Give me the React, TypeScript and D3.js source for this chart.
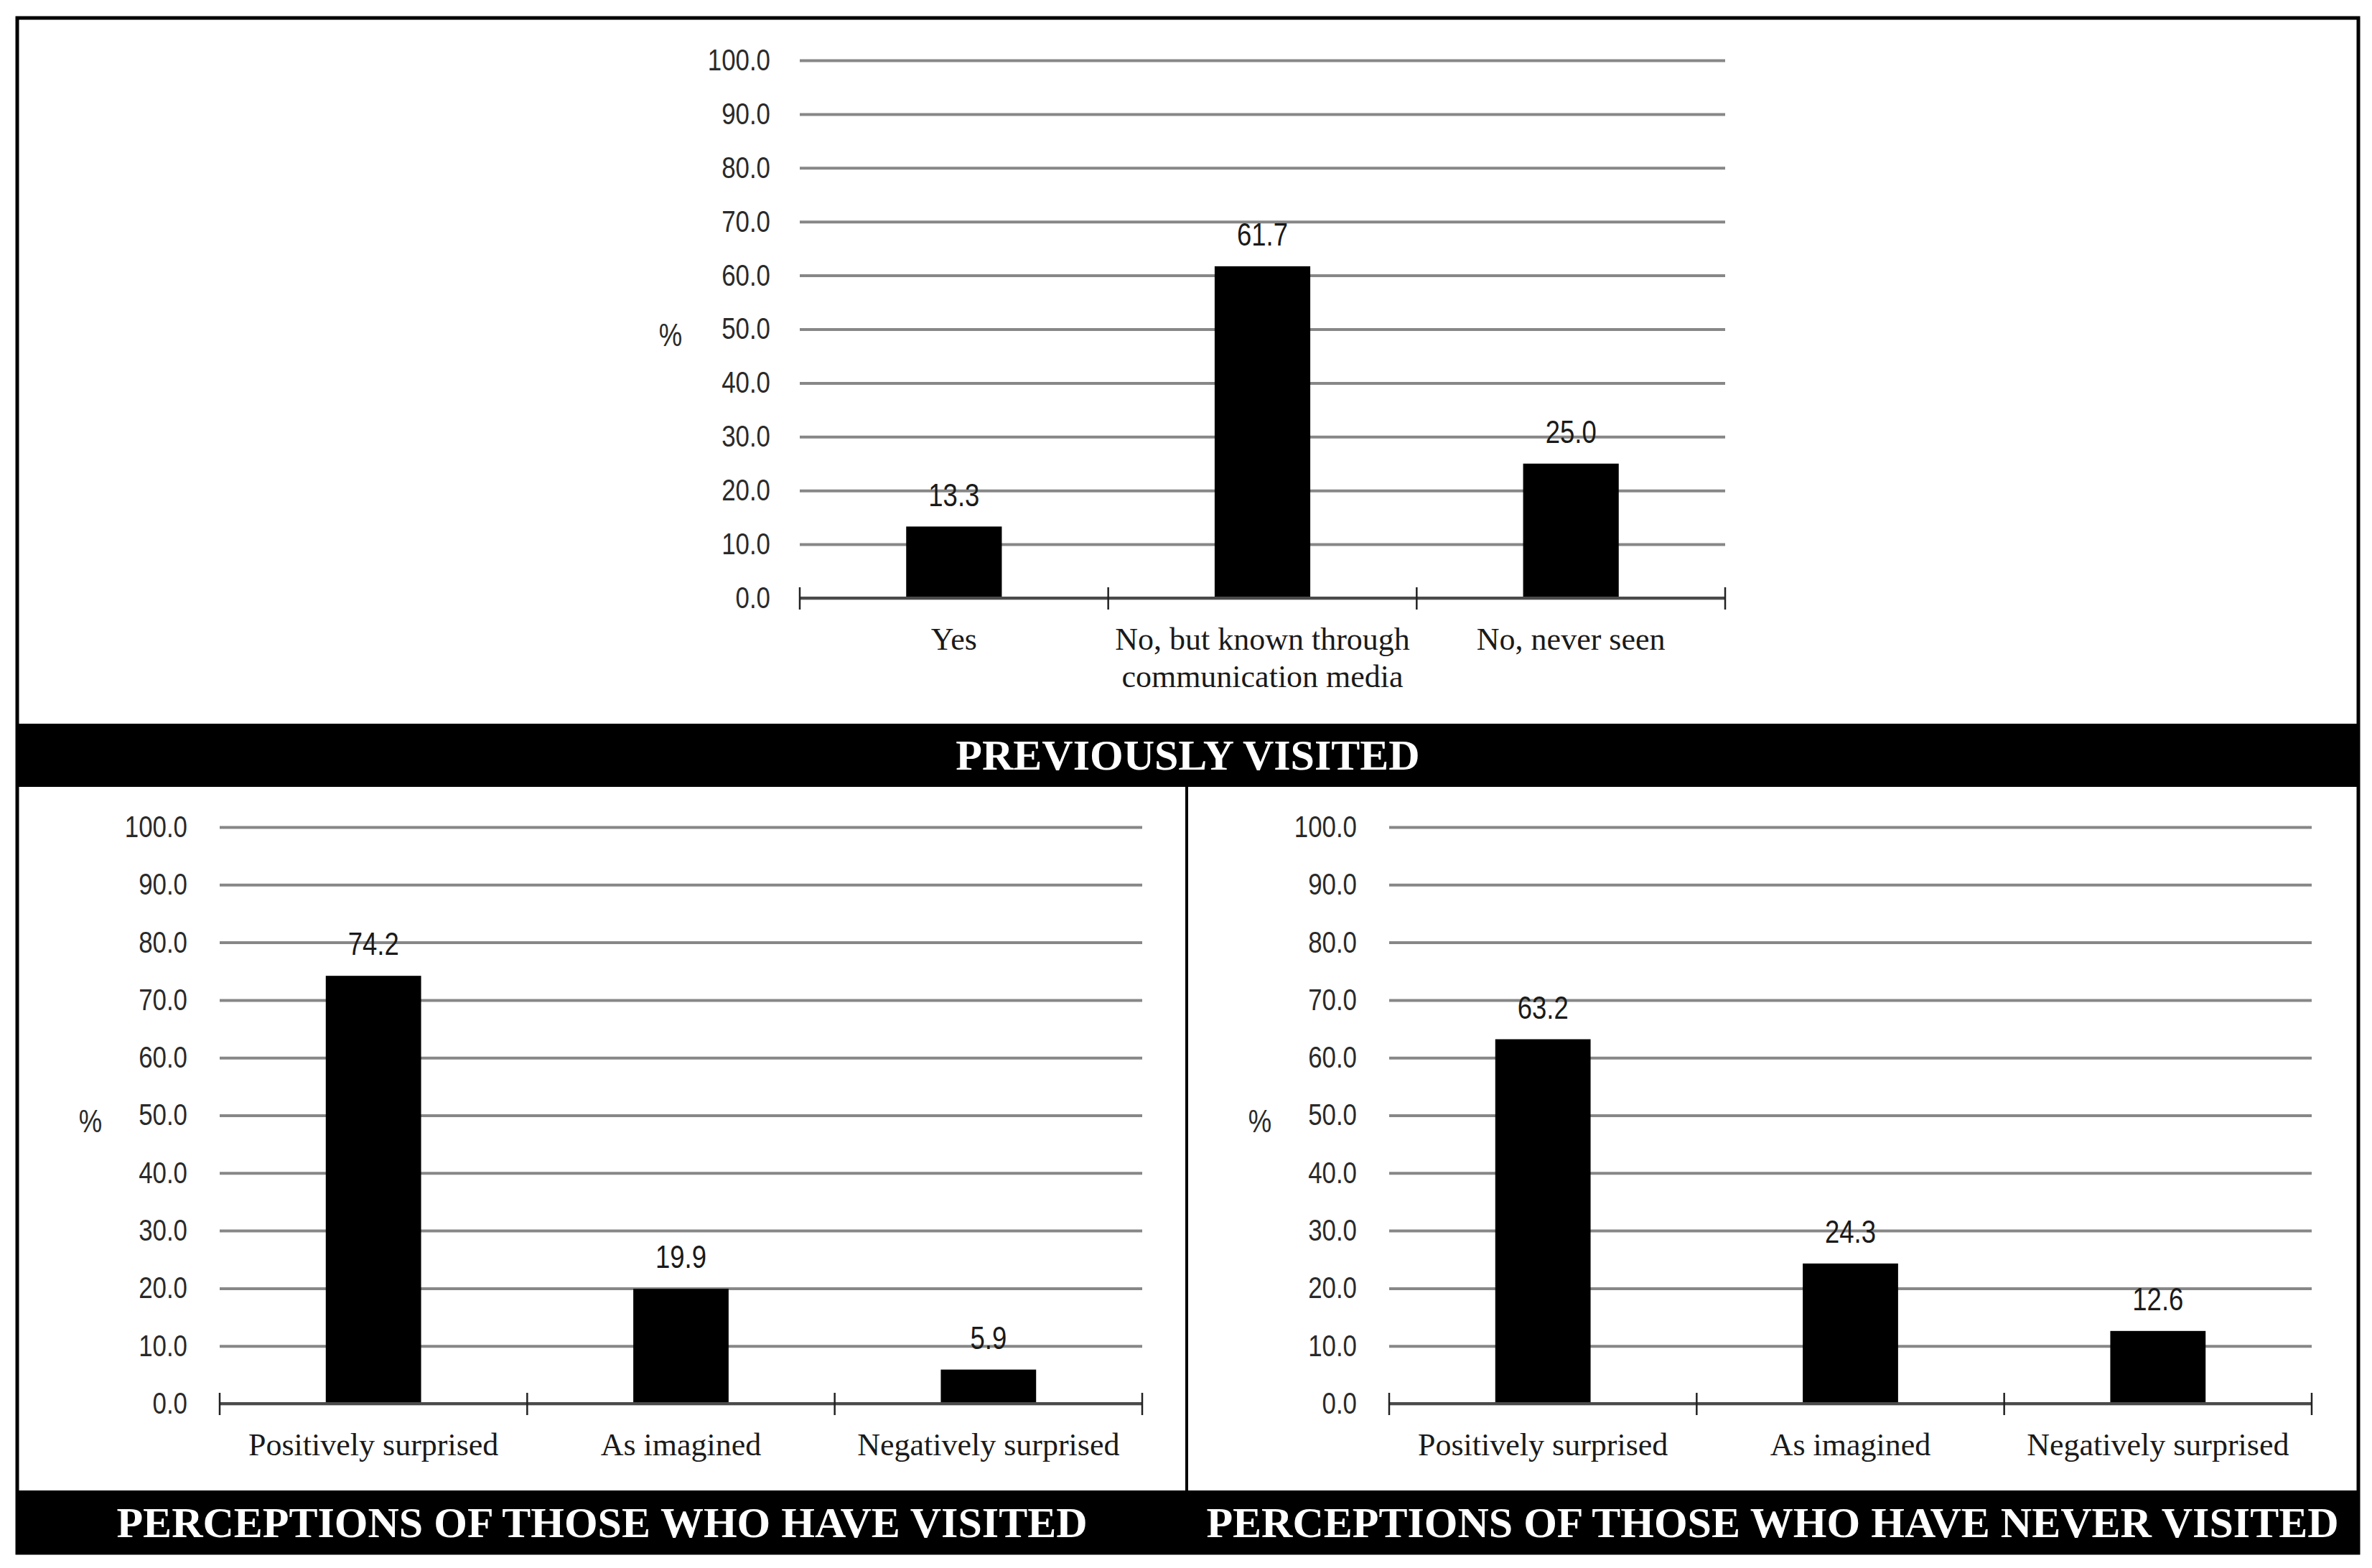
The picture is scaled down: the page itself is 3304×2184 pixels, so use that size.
import { useEffect, useRef } from "react";
import * as d3 from "d3";

const WIDTH = 3304;
const HEIGHT = 2184;

// y axis ticks shared by the three charts
const yTickValues = [0, 10, 20, 30, 40, 50, 60, 70, 80, 90, 100];

// top chart
const previousCategories = [
  ["Yes"],
  ["No, but known through", "communication media"],
  ["No, never seen"],
];
const previousValues = [13.3, 61.7, 25.0];

// bottom charts
const perceptionCategories = [
  ["Positively surprised"],
  ["As imagined"],
  ["Negatively surprised"],
];
const visitedValues = [74.2, 19.9, 5.9];
const neverVisitedValues = [63.2, 24.3, 12.6];

const titles = [
  "PREVIOUSLY VISITED",
  "PERCEPTIONS OF THOSE WHO HAVE VISITED",
  "PERCEPTIONS OF THOSE WHO HAVE NEVER VISITED",
];

const NUM_FONT = "'Liberation Sans', Arial, sans-serif";
const SERIF_FONT = "'Liberation Serif', 'Times New Roman', serif";
// the numbers in the original are set in a narrow face
const NARROW = 0.83;

type PanelProps = {
  x0: number;
  x1: number;
  yBottom: number;
  yTop: number;
  categories: string[][];
  values: number[];
  labelGap: number;
};

const BarPanel = ({ x0, x1, yBottom, yTop, categories, values, labelGap }: PanelProps) => {
  const axesRef = useRef<SVGGElement>(null);
  const boundsWidth = x1 - x0;

  const yScale = d3.scaleLinear().domain([0, 100]).range([yBottom, yTop]);
  const idx = categories.map((_, i) => String(i));
  const xScale = d3.scaleBand().domain(idx).range([x0, x1]).padding(0);
  const barScale = d3
    .scaleBand()
    .domain(idx)
    .range([x0, x1])
    .paddingInner(0.69)
    .paddingOuter(0.345);

  useEffect(() => {
    const g = d3.select(axesRef.current);
    g.selectAll("*").remove();

    const yAxisGenerator = d3
      .axisLeft(yScale)
      .tickValues(yTickValues)
      .tickSize(-boundsWidth)
      .tickPadding(labelGap)
      .tickFormat((d) => d3.format(".1f")(d as number));

    const yAxis = g
      .append("g")
      .attr("transform", `translate(${x0},0)`)
      .call(yAxisGenerator);

    yAxis.select(".domain").remove();
    yAxis
      .selectAll(".tick line")
      .attr("stroke", "#878787")
      .attr("stroke-width", 4);
    yAxis
      .selectAll(".tick text")
      .attr("x", -labelGap / NARROW)
      .attr("transform", `scale(${NARROW},1)`)
      .attr("font-family", NUM_FONT)
      .attr("font-size", 42)
      .attr("fill", "#2a2a2a");
  }, [x0, x1, yBottom, yTop]);

  const ticksX = d3.range(categories.length + 1).map((i) => x0 + i * xScale.step());
  const center = (i: number) => (xScale(String(i)) ?? 0) + xScale.bandwidth() / 2;

  return (
    <g>
      <g ref={axesRef} />
      {values.map((v, i) => (
        <rect
          key={i}
          x={barScale(String(i))}
          y={yScale(v)}
          width={barScale.bandwidth()}
          height={yScale(0) - yScale(v)}
          fill="#000"
        />
      ))}
      <line x1={x0} x2={x1} y1={yScale(0)} y2={yScale(0)} stroke="#4a4a4a" strokeWidth={4} />
      {ticksX.map((tx, i) => (
        <line
          key={i}
          x1={tx}
          x2={tx}
          y1={yScale(0) - 15}
          y2={yScale(0) + 16}
          stroke="#222"
          strokeWidth={2.5}
        />
      ))}
      {values.map((v, i) => (
        <text
          key={i}
          transform={`translate(${center(i)},${yScale(v) - 44}) scale(${NARROW},1)`}
          textAnchor="middle"
          dominantBaseline="central"
          fontFamily={NUM_FONT}
          fontSize={44}
          fill="#1a1a1a"
        >
          {v.toFixed(1)}
        </text>
      ))}
      {categories.map((lines, i) => (
        <text
          key={i}
          x={center(i)}
          y={yScale(0) + 57}
          textAnchor="middle"
          dominantBaseline="central"
          fontFamily={SERIF_FONT}
          fontSize={44}
          fill="#1a1a1a"
        >
          {lines.map((l, j) => (
            <tspan key={j} x={center(i)} dy={j === 0 ? 0 : 52}>
              {l}
            </tspan>
          ))}
        </text>
      ))}
      <text
        transform={`translate(${x0 - 180},${(yBottom + yTop) / 2 + 8}) scale(${NARROW},1)`}
        textAnchor="middle"
        dominantBaseline="central"
        fontFamily={NUM_FONT}
        fontSize={44}
        fill="#2a2a2a"
      >
        %
      </text>
    </g>
  );
};

const Title = ({ x, y, text }: { x: number; y: number; text: string }) => (
  <text
    x={x}
    y={y}
    textAnchor="middle"
    dominantBaseline="central"
    fontFamily={SERIF_FONT}
    fontWeight="bold"
    fontSize={60}
    fill="#fff"
  >
    {text}
  </text>
);

export default function App() {
  const frame = { left: 24, top: 25, right: 3285, bottom: 2163 };
  const divider = 1653;
  return (
    <svg
      width={WIDTH}
      height={HEIGHT}
      style={{ position: "absolute", left: 0, top: 0, background: "#fff" }}
    >
      <rect x={0} y={0} width={WIDTH} height={HEIGHT} fill="#fff" />

      <BarPanel
        x0={1114}
        x1={2403}
        yBottom={833}
        yTop={84}
        categories={previousCategories}
        values={previousValues}
        labelGap={41}
      />
      <BarPanel
        x0={306}
        x1={1591}
        yBottom={1955}
        yTop={1152}
        categories={perceptionCategories}
        values={visitedValues}
        labelGap={45}
      />
      <BarPanel
        x0={1935}
        x1={3220}
        yBottom={1955}
        yTop={1152}
        categories={perceptionCategories}
        values={neverVisitedValues}
        labelGap={45}
      />

      {/* black title bands */}
      <rect x={frame.left} y={1008} width={frame.right - frame.left} height={88} fill="#000" />
      <rect x={frame.left} y={2076} width={frame.right - frame.left} height={frame.bottom - 2076} fill="#000" />
      <line x1={divider} x2={divider} y1={1096} y2={2076} stroke="#000" strokeWidth={4} />

      <Title x={(frame.left + frame.right) / 2} y={1052} text={titles[0]} />
      <Title x={(frame.left + divider) / 2} y={2121} text={titles[1]} />
      <Title x={(divider + frame.right) / 2} y={2121} text={titles[2]} />

      <rect
        x={frame.left}
        y={frame.top}
        width={frame.right - frame.left}
        height={frame.bottom - frame.top}
        fill="none"
        stroke="#000"
        strokeWidth={5}
      />
    </svg>
  );
}
